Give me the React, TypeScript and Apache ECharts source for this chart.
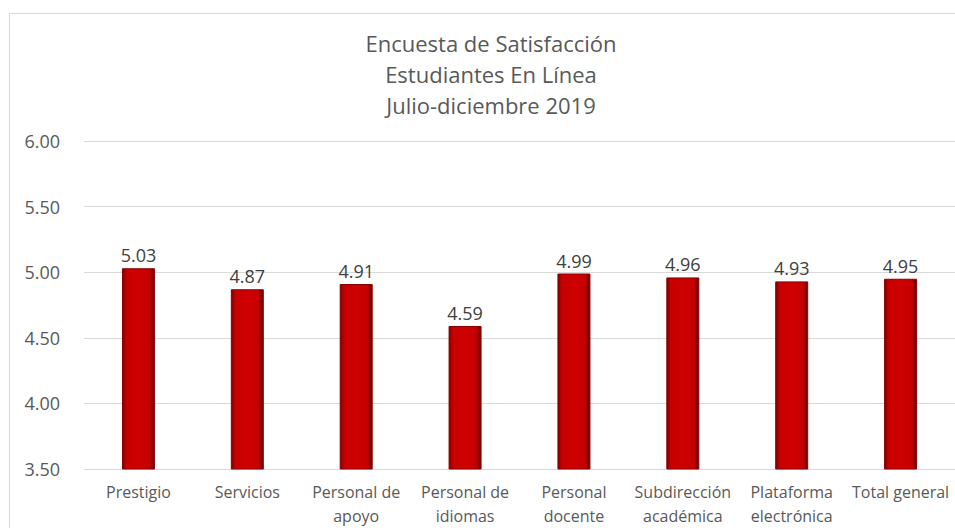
import React, { useEffect, useRef } from "react";
import * as echarts from "echarts";

const categories = [
  "Prestigio",
  "Servicios",
  "Personal de\napoyo",
  "Personal de\nidiomas",
  "Personal\ndocente",
  "Subdirección\nacadémica",
  "Plataforma\nelectrónica",
  "Total general",
];
const values = [5.03, 4.87, 4.91, 4.59, 4.99, 4.96, 4.93, 4.95];
const titleLines = ["Encuesta de Satisfacción", "Estudiantes En Línea", "Julio-diciembre 2019"];

export default function App() {
  const ref = useRef<HTMLDivElement>(null);
  useEffect(() => {
    if (!ref.current) return;
    const chart = echarts.init(ref.current, null, { renderer: "svg" });
    const font = "'Open Sans', 'Noto Sans', sans-serif";
    chart.setOption({
      animation: false,
      backgroundColor: "#ffffff",
      textStyle: { fontFamily: font },
      title: {
        text: titleLines.join("\n"),
        left: 486,
        textAlign: "center",
        top: 22,
        textStyle: {
          fontFamily: font,
          fontSize: 22,
          fontWeight: "normal",
          color: "#595959",
          lineHeight: 31,
        },
      },
      graphic: [
        {
          type: "rect",
          shape: { x: 9.5, y: 13.5, width: 960, height: 530 },
          style: { fill: "none", stroke: "#d9d9d9", lineWidth: 1 },
          silent: true,
        },
      ],
      grid: { left: 84, right: 0, top: 141, bottom: 58 },
      xAxis: {
        type: "category",
        data: categories,
        axisTick: { show: false },
        axisLine: { lineStyle: { color: "#d9d9d9" } },
        axisLabel: {
          color: "#595959",
          fontSize: 16,
          lineHeight: 24,
          margin: 11,
          interval: 0,
          fontFamily: font,
        },
      },
      yAxis: {
        type: "value",
        min: 3.5,
        max: 6,
        interval: 0.5,
        axisLine: { show: false },
        axisTick: { show: false },
        splitLine: { lineStyle: { color: "#d9d9d9" } },
        axisLabel: {
          color: "#595959",
          fontSize: 18,
          margin: 24,
          fontFamily: font,
          formatter: (v: number) => v.toFixed(2),
        },
      },
      series: [
        {
          type: "bar",
          data: values,
          barWidth: 33,
          itemStyle: {
            color: new echarts.graphic.LinearGradient(0, 0, 1, 0, [
              { offset: 0, color: "#7a0000" },
              { offset: 0.12, color: "#c60000" },
              { offset: 0.5, color: "#cf0000" },
              { offset: 0.85, color: "#c40000" },
              { offset: 1, color: "#5e0000" },
            ]),
            borderColor: "#8a0000",
            borderWidth: 1,
          },
          label: {
            show: true,
            position: "top",
            distance: 4,
            color: "#404040",
            fontSize: 18,
            fontFamily: font,
            formatter: (p: any) => Number(p.value).toFixed(2),
          },
        },
      ],
    });
    return () => chart.dispose();
  }, []);
  return (
    <div
      ref={ref}
      style={{ position: "fixed", left: 0, top: 0, width: 955, height: 528 }}
    />
  );
}
